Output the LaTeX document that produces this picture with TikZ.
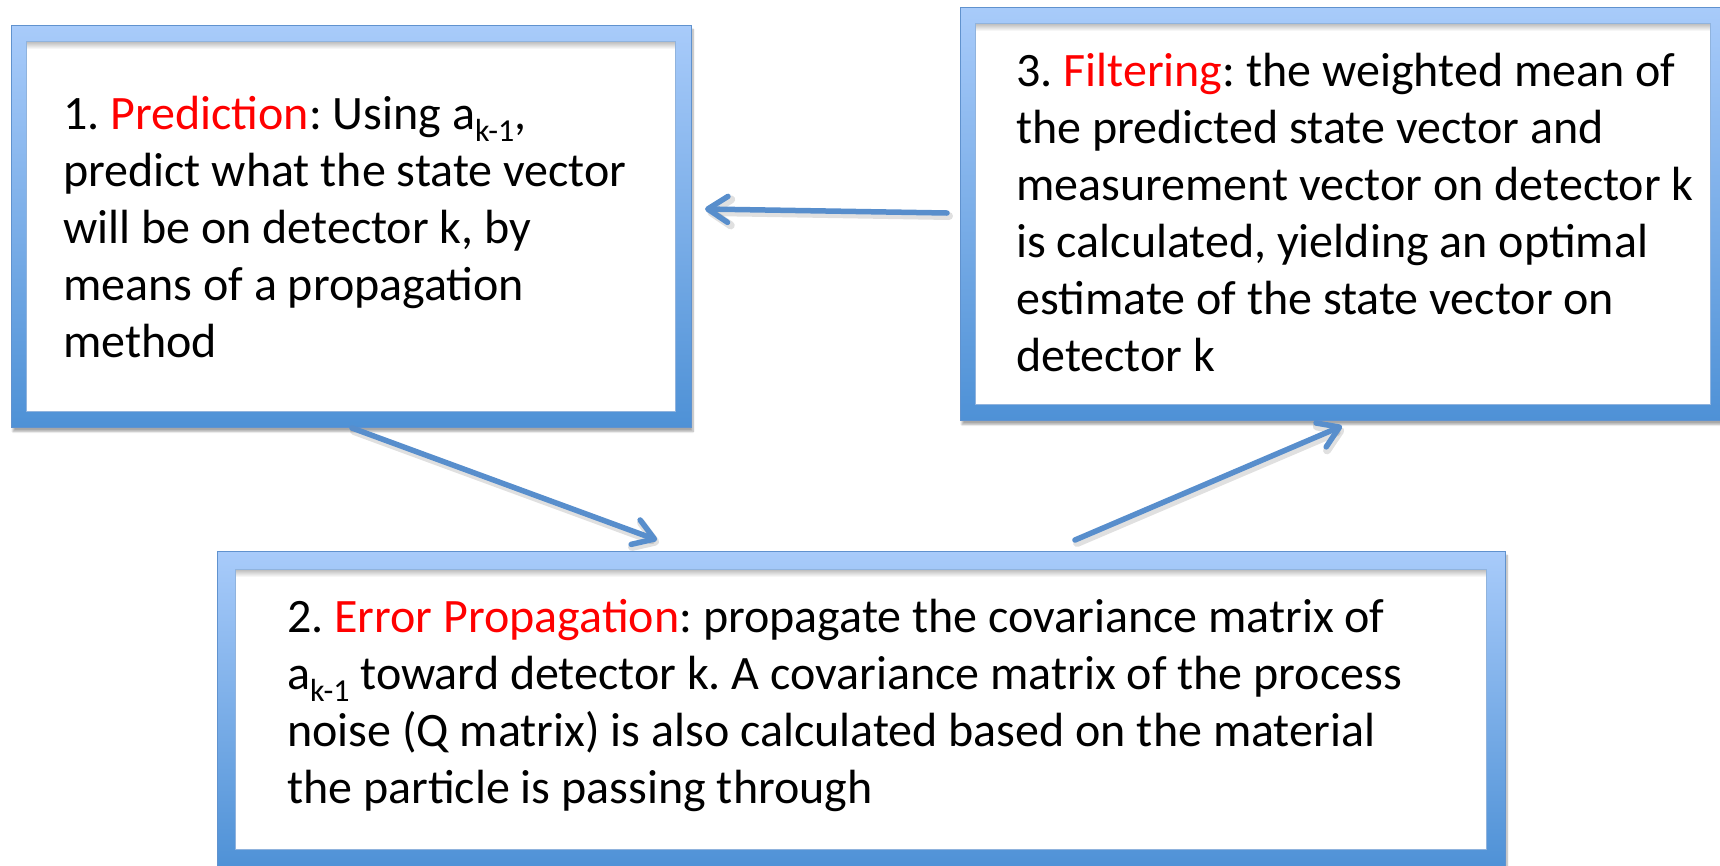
\documentclass[tikz,border=0pt]{standalone}
\usepackage{fontspec}
\setmainfont{Carlito}
\usetikzlibrary{arrows.meta,calc,shadows.blur}

\definecolor{frametop}{RGB}{168,203,250}
\definecolor{framebot}{RGB}{78,145,214}
\definecolor{frameline}{RGB}{96,146,206}
\definecolor{arrowblue}{RGB}{88,142,204}

% lowered index such as a_{k-1}
\newcommand\lowidx[1]{\raisebox{-12pt}{\fontsize{32}{32}\selectfont #1}}
% text block whose reference point is the first baseline
\newcommand\steptext[2]{\parbox[t]{#1}{\raggedright\frenchspacing\fontsize{48}{57}\selectfont #2}}

\tikzset{
  panel/.style={rectangle, inner sep=0pt, anchor=north west,
    top color=frametop, bottom color=framebot,
    draw=frameline, line width=1pt,
    blur shadow={shadow xshift=1.5pt, shadow yshift=-4pt,
      shadow blur steps=8, shadow opacity=35}},
  innerpane/.style={fill=white},
  paneedge/.style={draw=frameline!70, line width=0.8pt},
  boxtext/.style={anchor=base west, inner sep=0pt},
  flow/.style={draw=arrowblue, line width=5.5pt, line cap=round,
    -{Straight Barb[length=20pt, width=26pt, line cap=round, line join=round]}},
  flowshadow/.style={draw=black, draw opacity=0.12, line width=8pt, line cap=round,
    -{Straight Barb[length=20pt, width=26pt, line cap=round, line join=round]}}
}

\begin{document}
\begin{tikzpicture}[x=1pt, y=-1pt]
  \useasboundingbox (0,0) rectangle (1720,865);

  % ---- framed panels ----
  \node[panel, minimum width=680pt, minimum height=402pt] (p1) at (11,25) {};
  \node[panel, minimum width=762pt, minimum height=413pt] (p3) at (960,7) {};
  \node[panel, minimum width=1288pt, minimum height=318pt] (p2) at (217,551) {};

  % white interiors with a soft inner shadow along the top edge
  \path[innerpane] ($(p1.north west)+(15,16)$) rectangle ($(p1.south east)+(-17,-17)$);
  \shade[top color=black!28, bottom color=white] ($(p1.north west)+(15,16)$) rectangle ($(p1.north east)+(-17,24)$);
  \path[paneedge] ($(p1.north west)+(15,16)$) rectangle ($(p1.south east)+(-17,-17)$);

  \path[innerpane] ($(p3.north west)+(15,16)$) rectangle ($(p3.south east)+(-13,-17)$);
  \shade[top color=black!28, bottom color=white] ($(p3.north west)+(15,16)$) rectangle ($(p3.north east)+(-13,24)$);
  \path[paneedge] ($(p3.north west)+(15,16)$) rectangle ($(p3.south east)+(-13,-17)$);

  \path[innerpane] ($(p2.north west)+(18,18)$) rectangle ($(p2.south east)+(-20,-21)$);
  \shade[top color=black!28, bottom color=white] ($(p2.north west)+(18,18)$) rectangle ($(p2.north east)+(-20,26)$);
  \path[paneedge] ($(p2.north west)+(18,18)$) rectangle ($(p2.south east)+(-20,-21)$);

  % ---- texts ----
  \node[boxtext] (t1) at (63,129) {\steptext{720pt}{%
    1. \textcolor{red}{Prediction}: Using a\lowidx{k-1},\\
    predict what the state vector\\
    will be on detector k, by\\
    means of a propagation\\
    method}};

  \node[boxtext] (t3) at (1016,86) {\steptext{780pt}{%
    3. \textcolor{red}{Filtering}: the weighted mean of\\
    the predicted state vector and\\
    measurement vector on detector k\\
    is calculated, yielding an optimal\\
    estimate of the state vector on\\
    detector k}};

  \node[boxtext] (t2) at (287,632) {\steptext{1300pt}{%
    2. \textcolor{red}{Error Propagation}: propagate the covariance matrix of\\
    a\lowidx{k-1} toward detector k. A covariance matrix of the process\\
    noise (Q matrix) is also calculated based on the material\\
    the particle is passing through}};

  % ---- connector end points ----
  \coordinate (c31s) at (947,213);
  \coordinate (c31e) at (705,209);
  \coordinate (c12s) at (352,428);
  \coordinate (c12e) at (657,540);
  \coordinate (c23s) at (1075,540);
  \coordinate (c23e) at (1342,426);

  % ---- connectors with soft shadows ----
  \begin{scope}[transform canvas={shift={(2pt,-3pt)}}]
    \draw[flowshadow] (c31s) -- (c31e);
    \draw[flowshadow] (c12s) -- (c12e);
    \draw[flowshadow] (c23s) -- (c23e);
  \end{scope}
  \draw[flow] (c31s) -- (c31e);
  \draw[flow] (c12s) -- (c12e);
  \draw[flow] (c23s) -- (c23e);
\end{tikzpicture}
\end{document}
